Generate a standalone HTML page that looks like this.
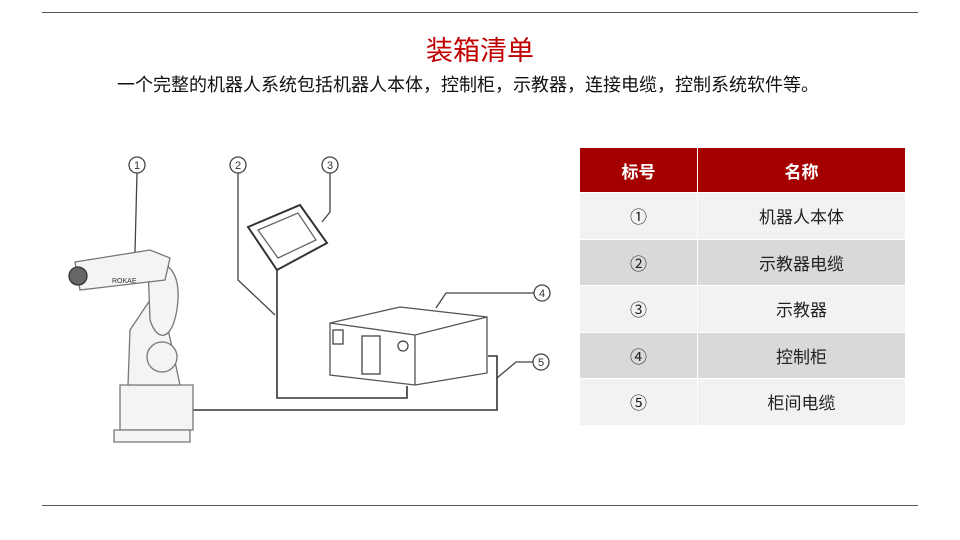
<!DOCTYPE html>
<html><head><meta charset="utf-8"><style>
body{margin:0;width:960px;height:540px;background:#fff;font-family:"Liberation Sans","Noto Sans CJK SC",sans-serif;position:relative;overflow:hidden}
.rule{position:absolute;left:42px;width:876px;height:1px;background:#555}
h1{position:absolute;top:29px;left:0;width:960px;text-align:center;margin:0;font-size:27px;font-weight:normal;color:#c00000}
.sub{position:absolute;top:71px;left:117px;font-size:18px;color:#111}
table{position:absolute;left:579px;top:147px;border-collapse:collapse;width:327px}
td,th{text-align:center;font-size:17px;border:1px solid #fff;padding:0}
th{background:#a50000;color:#fff;height:44px;font-weight:bold}
td{height:45.5px;color:#222}
tr.a td{background:#f2f2f2}tr.b td{background:#d9d9d9}
</style></head><body>
<div class="rule" style="top:12px"></div>
<div class="rule" style="top:505px"></div>
<h1>装箱清单</h1>
<div class="sub">一个完整的机器人系统包括机器人本体，控制柜，示教器，连接电缆，控制系统软件等。</div>
<svg width="960" height="540" style="position:absolute;left:0;top:0" fill="none" stroke="#444" stroke-width="1.3">
<g fill="#fff">
<circle cx="137" cy="165" r="8"/><circle cx="238" cy="165" r="8"/><circle cx="330" cy="165" r="8"/><circle cx="542" cy="293" r="8"/><circle cx="541" cy="362" r="8"/>
</g>
<g font-size="11" font-family="Liberation Sans" fill="#333" stroke="none" text-anchor="middle">
<text x="137" y="169">1</text><text x="238" y="169">2</text><text x="330" y="169">3</text><text x="542" y="297">4</text><text x="541" y="366">5</text>
</g>
<path d="M137 173L135 252M238 173V280L275 315M330 173V212L322 222M534 293H446L436 308M533 362H516L497 378"/>
<path d="M277 270V398H407V386M193 410H497V356H488" stroke="#333" stroke-width="1.6"/>
<path d="M330 323L400 307L487 317V373L415 385L330 375Z M330 323L415 335L487 317 M415 335V385" fill="#fff" stroke="#555"/>
<rect x="333" y="330" width="10" height="14"/><rect x="362" y="336" width="18" height="38"/><circle cx="403" cy="346" r="5"/>
<path d="M248 227L300 205L327 243L277 270Z" fill="#fff" stroke="#333" stroke-width="2"/>
<path d="M258 230L298 213L316 240L278 258Z" stroke="#666"/>
<g stroke="#777" fill="#f4f4f4">
<path d="M120 385H193V430H120Z"/>
<path d="M128 385L130 330L150 300L165 315L180 385Z"/>
<path d="M148 265C160 258 180 265 178 300C175 340 158 345 150 320Z"/>
<path d="M75 262L150 250L170 258L165 280L80 290Z"/>
<circle cx="162" cy="357" r="15"/>
<path d="M114 430H190V442H114Z"/>
</g>
<circle cx="78" cy="276" r="9" fill="#666" stroke="#333"/>
<text x="112" y="283" font-size="7" fill="#333" stroke="none" font-family="Liberation Sans">ROKAE</text>
</svg>
<table>
<tr><th style="width:117px">标号</th><th>名称</th></tr>
<tr class="a"><td>①</td><td>机器人本体</td></tr>
<tr class="b"><td>②</td><td>示教器电缆</td></tr>
<tr class="a"><td>③</td><td>示教器</td></tr>
<tr class="b"><td>④</td><td>控制柜</td></tr>
<tr class="a"><td>⑤</td><td>柜间电缆</td></tr>
</table>
</body></html>
